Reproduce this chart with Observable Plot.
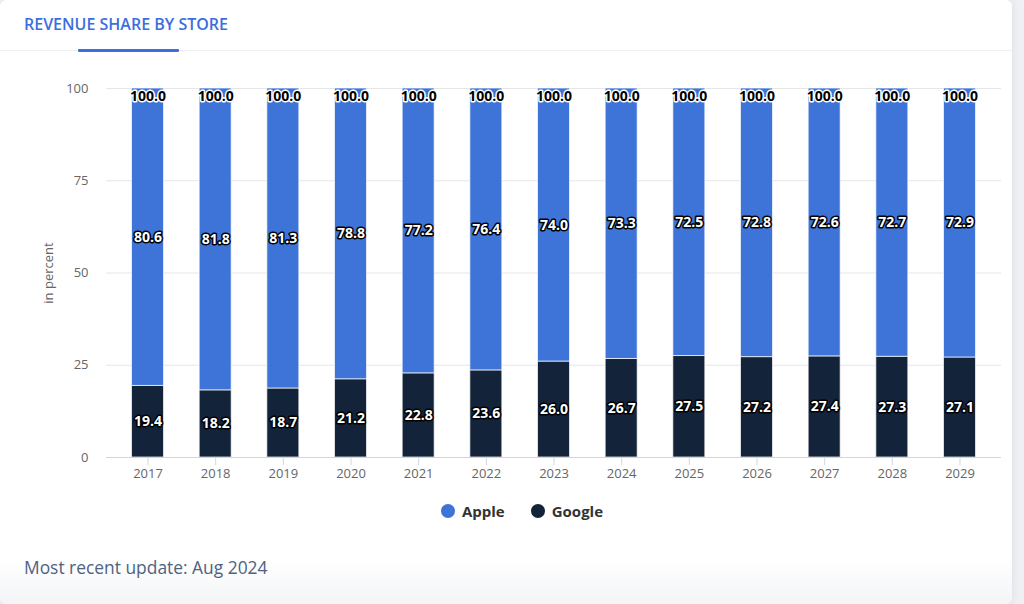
<!DOCTYPE html>
<html>
<head>
<meta charset="utf-8">
<script src="https://cdn.jsdelivr.net/npm/d3@7"></script>
<script src="https://cdn.jsdelivr.net/npm/@observablehq/plot@0.6"></script>
<style>
  html, body { margin: 0; padding: 0; background: #eef0f3; }
  body { width: 1024px; height: 604px; overflow: hidden; position: relative; font-family: "Open Sans", sans-serif; }
  #card { position: absolute; left: 0; top: 0; width: 1012px; height: 604px; background: linear-gradient(to bottom, #ffffff 0px, #ffffff 560px, #f3f4f6 604px); border-radius: 6px; box-shadow: 0 0 8px rgba(0,0,0,0.08); }
  #title { position: absolute; left: 24px; top: 13px; font-size: 16px; font-weight: 600; color: #3b6ee0; }
  #sep { position: absolute; left: 0; top: 50px; width: 1012px; height: 1px; background: #eef0f4; }
  #under { position: absolute; left: 78px; top: 49px; width: 101px; height: 3px; background: #3b6ee0; border-radius: 1px; }
  #chart { position: absolute; left: 0; top: 70px; }
  #legend { position: absolute; left: 0; width: 1024px; top: 501px; padding-left: 20px; box-sizing: border-box; text-align: center; font-size: 15px; font-weight: 700; color: #333; }
  #legend span.item { display: inline-flex; align-items: center; margin: 0 13px; }
  #legend span.dot { width: 14px; height: 14px; border-radius: 50%; display: inline-block; margin-right: 7px; }
  #footer { position: absolute; left: 24px; top: 555px; font-size: 17.4px; color: #4f6283; }
</style>
</head>
<body>
<div id="card"></div>
<div id="title">REVENUE SHARE BY STORE</div>
<div id="sep"></div>
<div id="under"></div>
<div id="chart"></div>
<div id="legend"></div>
<div id="footer">Most recent update: Aug 2024</div>
<script>
const years = ["2017","2018","2019","2020","2021","2022","2023","2024","2025","2026","2027","2028","2029"];
const apple = [80.6,81.8,81.3,78.8,77.2,76.4,74.0,73.3,72.5,72.8,72.6,72.7,72.9];
const google = [19.4,18.2,18.7,21.2,22.8,23.6,26.0,26.7,27.5,27.2,27.4,27.3,27.1];
const totals = [100.0,100.0,100.0,100.0,100.0,100.0,100.0,100.0,100.0,100.0,100.0,100.0,100.0];
const stores = ["Apple","Google"];
const colors = ["#3e74d7","#13233a"];
const yTicks = [0,25,50,75,100];

const data = [];
years.forEach((yr,i) => {
  data.push({year: yr, store: "Google", value: google[i]});
  data.push({year: yr, store: "Apple", value: apple[i]});
});
const totalData = years.map((yr,i) => ({year: yr, total: totals[i]}));

const chart = Plot.plot({
  width: 1024,
  height: 418,
  marginLeft: 106,
  marginRight: 23,
  marginTop: 18,
  marginBottom: 31,
  style: {fontFamily: "Open Sans, sans-serif", fontSize: "13px", color: "#666", background: "transparent"},
  x: {domain: years, paddingInner: 0.527, paddingOuter: 0.377, round: false, label: null},
  y: {domain: [0,100], ticks: yTicks, label: null},
  color: {domain: stores, range: colors},
  marks: [
    Plot.ruleY(yTicks.filter(d => d > 0), {stroke: "#e6e6e6", strokeWidth: 1}),
    Plot.barY(data, {x: "year", y: "value", fill: "store", order: ["Google","Apple"], stroke: "#ffffff", strokeOpacity: 0.7, strokeWidth: 1}),
    Plot.ruleY([0], {stroke: "#ccd6eb", strokeWidth: 1}),
    Plot.axisX({tickSize: 8, stroke: "#ccd6eb", tickPadding: 3, fill: "#666", fontSize: 13}),
    Plot.axisY({ticks: yTicks, tickSize: 0, tickPadding: 18, fill: "#666", fontSize: 13, label: "in percent", labelAnchor: "center", labelArrow: "none", labelOffset: 63}),
    Plot.text(data, Plot.stackY({x: "year", y: "value", z: "store", order: ["Google","Apple"], text: d => d.value.toFixed(1), fill: "white", stroke: "black", strokeWidth: 3, fontWeight: 700, fontSize: 14})),
    Plot.text(totalData, {x: "year", y: "total", text: d => d.total.toFixed(1), dy: 8, fill: "black", stroke: "white", strokeWidth: 3, fontWeight: 700, fontSize: 14})
  ]
});
document.getElementById("chart").appendChild(chart);

const legend = document.getElementById("legend");
stores.forEach((s,i) => {
  const item = document.createElement("span");
  item.className = "item";
  const dot = document.createElement("span");
  dot.className = "dot";
  dot.style.background = colors[i];
  item.appendChild(dot);
  item.appendChild(document.createTextNode(s));
  legend.appendChild(item);
});
</script>
</body>
</html>
